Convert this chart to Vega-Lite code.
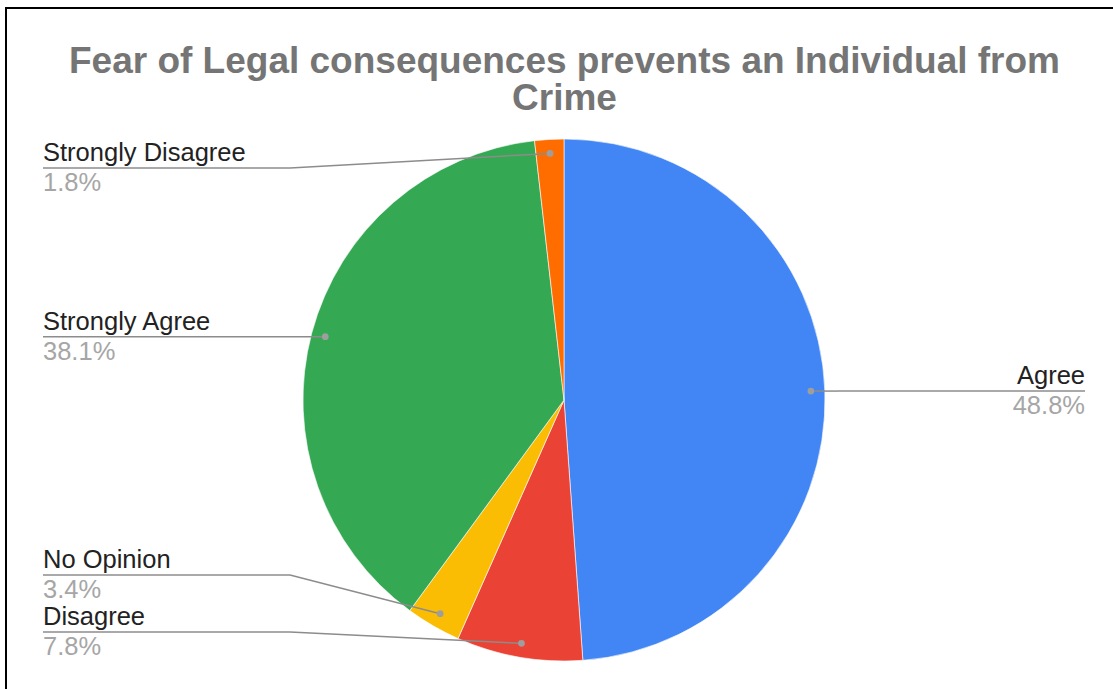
{
  "$schema": "https://vega.github.io/schema/vega-lite/v6.json",
  "autosize": "none",
  "width": 1117,
  "height": 692,
  "padding": {"left": 6, "top": 8, "right": 0, "bottom": 0},
  "background": "#ffffff",
  "title": {
    "text": ["Fear of Legal consequences prevents an Individual from", "Crime"],
    "font": "Liberation Sans",
    "fontSize": 37,
    "fontWeight": "bold",
    "color": "#757575",
    "lineHeight": 37,
    "anchor": "middle",
    "frame": "group",
    "offset": -110
  },
  "config": {
    "view": {"stroke": "#000000", "strokeWidth": 2},
    "text": {"font": "Liberation Sans"}
  },
  "datasets": {
    "slices": [
      {"category": "Agree", "value": 48.8},
      {"category": "Disagree", "value": 7.8},
      {"category": "No Opinion", "value": 3.4},
      {"category": "Strongly Agree", "value": 38.1},
      {"category": "Strongly Disagree", "value": 1.8}
    ]
  },
  "layer": [
    {
      "data": {"name": "slices"},
      "mark": {"type": "arc", "outerRadius": 261, "stroke": "#ffffff", "strokeWidth": 0.6},
      "encoding": {
        "x": {"datum": 0, "type": "quantitative", "scale": {"domain": [-558, 559], "nice": false, "zero": false}, "axis": null},
        "y": {"datum": 0, "type": "quantitative", "scale": {"domain": [-300, 392], "nice": false, "zero": false}, "axis": null},
        "theta": {"field": "value", "type": "quantitative", "stack": true},
        "order": {"field": "category", "sort": "ascending"},
        "color": {
          "field": "category",
          "type": "nominal",
          "scale": {
            "domain": ["Agree", "Disagree", "No Opinion", "Strongly Agree", "Strongly Disagree"],
            "range": ["#4285F4", "#EA4335", "#FBBC04", "#34A853", "#FF6D01"]
          },
          "legend": null
        }
      }
    },
    {
      "data": {"name": "slices"},
      "transform": [
        {"window": [{"op": "sum", "field": "value", "as": "cum"}], "sort": [{"field": "category", "order": "ascending"}], "frame": [null, 0]},
        {"joinaggregate": [{"op": "sum", "field": "value", "as": "total"}]},
        {"calculate": "2*PI*(datum.cum - datum.value/2)/datum.total", "as": "a"},
        {"calculate": "247*sin(datum.a)", "as": "dx"},
        {"calculate": "247*cos(datum.a)", "as": "dy"},
        {"calculate": "datum.dx > 0 ? 1 : -1", "as": "side"},
        {"calculate": "clamp(datum.dy, -232, 232)", "as": "cy"},
        {"window": [{"op": "lag", "field": "cy", "as": "prev"}], "groupby": ["side"], "sort": [{"field": "cy", "order": "ascending"}]},
        {"calculate": "datum.prev == null ? datum.cy : max(datum.cy, datum.prev + 57)", "as": "ly"},
        {"calculate": "274*datum.side", "as": "ex"},
        {"calculate": "521*datum.side", "as": "lx"},
        {"calculate": "format(datum.value, '.1f') + '%'", "as": "pct"}
      ],
      "layer": [
        {
          "mark": {"type": "rule", "color": "#8c8c8c", "strokeWidth": 1.5},
          "encoding": {
            "x": {"field": "dx", "type": "quantitative", "scale": {"domain": [-558, 559], "nice": false, "zero": false}, "axis": null},
            "y": {"field": "dy", "type": "quantitative", "scale": {"domain": [-300, 392], "nice": false, "zero": false}, "axis": null},
            "x2": {"field": "ex"},
            "y2": {"field": "ly"}
          }
        },
        {
          "mark": {"type": "rule", "color": "#8c8c8c", "strokeWidth": 1.5},
          "encoding": {
            "x": {"field": "ex", "type": "quantitative"},
            "y": {"field": "ly", "type": "quantitative"},
            "x2": {"field": "lx"}
          }
        },
        {
          "mark": {"type": "point", "filled": true, "color": "#9e9e9e", "size": 45, "opacity": 1},
          "encoding": {
            "x": {"field": "dx", "type": "quantitative"},
            "y": {"field": "dy", "type": "quantitative"}
          }
        },
        {
          "mark": {"type": "text", "fontSize": 25.5, "color": "#222222", "baseline": "alphabetic", "dy": -7, "align": {"expr": "datum.side < 0 ? 'left' : 'right'"}},
          "encoding": {
            "x": {"field": "lx", "type": "quantitative"},
            "y": {"field": "ly", "type": "quantitative"},
            "text": {"field": "category"}
          }
        },
        {
          "mark": {"type": "text", "fontSize": 25.5, "color": "#a6a6a6", "baseline": "alphabetic", "dy": 23, "align": {"expr": "datum.side < 0 ? 'left' : 'right'"}},
          "encoding": {
            "x": {"field": "lx", "type": "quantitative"},
            "y": {"field": "ly", "type": "quantitative"},
            "text": {"field": "pct"}
          }
        }
      ]
    }
  ]
}
